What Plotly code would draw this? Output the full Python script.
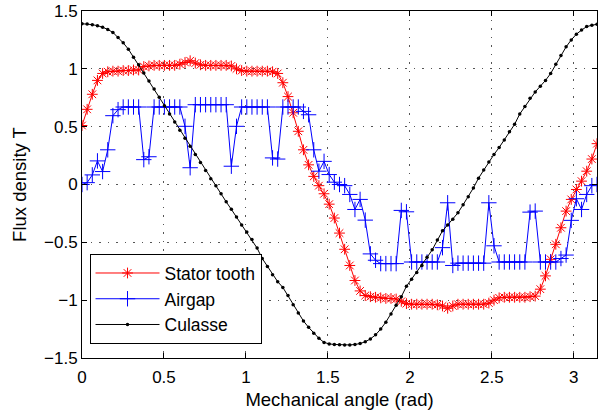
import numpy as np
import plotly.graph_objects as go

# Mechanical angle samples (0 .. pi, 101 points)
angle = np.linspace(0, np.pi, 101)

stator_tooth = [
    0.51, 0.65, 0.78, 0.90, 0.96, 0.975, 0.98, 0.98, 0.985, 0.985,
    0.99, 0.99, 1.02, 1.025, 1.03, 1.03, 1.03, 1.03, 1.03, 1.04,
    1.055, 1.07, 1.05, 1.035, 1.03, 1.03, 1.03, 1.03, 1.03, 1.025,
    1.0, 0.985, 0.98, 0.98, 0.98, 0.98, 0.98, 0.975, 0.96, 0.88,
    0.76, 0.62, 0.46, 0.30, 0.17, 0.07, -0.01, -0.08, -0.17, -0.29,
    -0.42, -0.56, -0.70, -0.83, -0.92, -0.96, -0.97, -0.975, -0.98, -0.985,
    -0.985, -0.99, -1.01, -1.03, -1.035, -1.035, -1.035, -1.035, -1.035, -1.04,
    -1.05, -1.07, -1.05, -1.035, -1.035, -1.035, -1.035, -1.035, -1.035, -1.025,
    -1.0, -0.98, -0.975, -0.975, -0.975, -0.975, -0.975, -0.97, -0.965, -0.905,
    -0.79, -0.647, -0.517, -0.374, -0.23, -0.129, -0.043, 0.029, 0.115, 0.22,
    0.353,
]

airgap = [
    0.0, 0.016, 0.083, 0.204, 0.112, 0.30, 0.595, 0.647, 0.67, 0.67,
    0.67, 0.67, 0.215, 0.24, 0.67, 0.67, 0.67, 0.67, 0.67, 0.67,
    0.503, 0.145, 0.69, 0.69, 0.69, 0.69, 0.69, 0.69, 0.69, 0.158,
    0.503, 0.67, 0.67, 0.67, 0.67, 0.67, 0.67, 0.23, 0.22, 0.67,
    0.67, 0.67, 0.67, 0.632, 0.603, 0.30, 0.115, 0.20, 0.086, 0.02,
    0.0, -0.01, -0.086, -0.216, -0.129, -0.308, -0.60, -0.655, -0.684, -0.684,
    -0.684, -0.684, -0.224, -0.236, -0.67, -0.67, -0.67, -0.67, -0.67, -0.67,
    -0.546, -0.158, -0.70, -0.68, -0.68, -0.68, -0.68, -0.68, -0.68, -0.158,
    -0.53, -0.67, -0.67, -0.67, -0.67, -0.67, -0.67, -0.239, -0.23, -0.67,
    -0.67, -0.67, -0.67, -0.64, -0.61, -0.31, -0.123, -0.216, -0.086, -0.01,
    0.0,
]

culasse = [
    1.39, 1.387, 1.382, 1.373, 1.36, 1.34, 1.315, 1.27, 1.225, 1.17,
    1.10, 1.035, 0.965, 0.895, 0.825, 0.755, 0.68, 0.61, 0.54, 0.47,
    0.40, 0.33, 0.26, 0.19, 0.12, 0.05, -0.01, -0.08, -0.15, -0.215,
    -0.28, -0.35, -0.41, -0.475, -0.55, -0.64, -0.71, -0.78, -0.84, -0.89,
    -0.96, -1.04, -1.11, -1.18, -1.235, -1.285, -1.33, -1.365, -1.378, -1.383,
    -1.386, -1.388, -1.387, -1.383, -1.375, -1.36, -1.335, -1.30, -1.25, -1.19,
    -1.12, -1.045, -0.97, -0.88, -0.82, -0.76, -0.70, -0.63, -0.565, -0.48,
    -0.40, -0.35, -0.30, -0.245, -0.175, -0.105, -0.03, 0.055, 0.125, 0.195,
    0.26, 0.32, 0.385, 0.455, 0.52, 0.61, 0.675, 0.745, 0.80, 0.85,
    0.90, 0.96, 1.04, 1.115, 1.19, 1.25, 1.30, 1.335, 1.365, 1.377,
    1.385,
]

x_ticks = [0, 0.5, 1, 1.5, 2, 2.5, 3]
y_ticks = [-1.5, -1, -0.5, 0, 0.5, 1, 1.5]

FONT = "Liberation Sans, Arial, Helvetica, sans-serif"

fig = go.Figure()
fig.add_trace(go.Scatter(
    x=angle, y=stator_tooth, name="Stator tooth", mode="lines+markers",
    line=dict(color="#ff0000", width=1),
    marker=dict(symbol="asterisk-open", size=9, color="#ff0000",
                line=dict(color="#ff0000", width=1)),
))
fig.add_trace(go.Scatter(
    x=angle, y=airgap, name="Airgap", mode="lines+markers",
    line=dict(color="#0000ff", width=1),
    marker=dict(symbol="cross-thin-open", size=11, color="#0000ff",
                line=dict(color="#0000ff", width=1)),
))
fig.add_trace(go.Scatter(
    x=angle, y=culasse, name="Culasse", mode="lines+markers",
    line=dict(color="#000000", width=1),
    marker=dict(symbol="circle", size=3.5, color="#000000"),
))

axis_common = dict(
    showline=True, linecolor="black", linewidth=1, mirror="ticks",
    ticks="inside", ticklen=5, tickcolor="black",
    showgrid=True, gridcolor="#555555", griddash="1.5px,7px", gridwidth=1,
    zeroline=False, automargin=False,
    tickfont=dict(size=17, color="black", family=FONT),
)

fig.update_xaxes(range=[0, np.pi], tickvals=x_ticks, ticklabelstandoff=4,
                 title=dict(text="Mechanical angle (rad)", font=dict(size=18.5, color="black", family=FONT), standoff=6),
                 **axis_common)
fig.update_yaxes(range=[-1.5, 1.5], tickvals=y_ticks,
                 title=dict(text="Flux density T", font=dict(size=18.5, color="black", family=FONT), standoff=12),
                 **axis_common)

fig.update_layout(
    width=611, height=414,
    margin=dict(l=82, r=14, t=11, b=56),
    paper_bgcolor="white", plot_bgcolor="white",
    font=dict(family=FONT, size=17, color="black"),
    showlegend=True,
    legend=dict(x=0.0146, y=0.04, xanchor="left", yanchor="bottom",
                bgcolor="white", bordercolor="black", borderwidth=1,
                font=dict(size=17.5, color="black", family=FONT),
                itemwidth=64, tracegroupgap=0),
)

fig.write_html("out.html")
